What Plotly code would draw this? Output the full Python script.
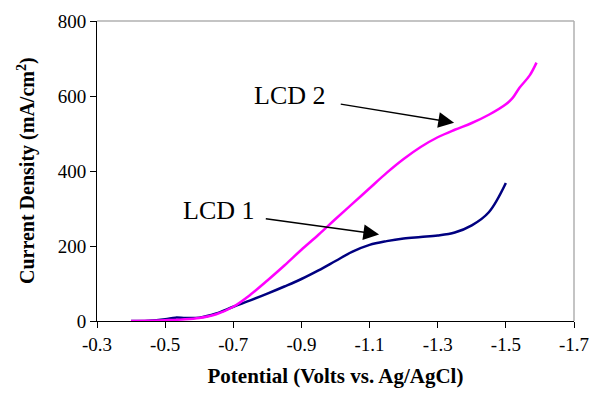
import plotly.graph_objects as go

# LCD 1 (navy)
lcd1_v = [-0.40, -0.45, -0.50, -0.53, -0.56, -0.60, -0.65, -0.70, -0.75, -0.80, -0.85, -0.90,
          -0.95, -1.00, -1.05, -1.10, -1.15, -1.20, -1.25, -1.30, -1.35, -1.40, -1.45, -1.50]
lcd1_i = [0, 1, 5, 9, 8, 9, 20, 38, 55, 73, 92, 112,
          135, 160, 185, 203, 213, 220, 224, 228, 236, 255, 290, 368]

# LCD 2 (magenta)
lcd2_v = [-0.40, -0.45, -0.50, -0.55, -0.60, -0.65, -0.70, -0.75, -0.80, -0.85, -0.90, -0.95,
          -1.00, -1.05, -1.10, -1.15, -1.20, -1.25, -1.30, -1.35, -1.40, -1.45, -1.50, -1.52,
          -1.54, -1.57, -1.59]
lcd2_i = [0, 0.5, 2, 4, 8, 18, 38, 70, 108, 148, 190, 230,
          272, 313, 354, 395, 432, 464, 490, 510, 528, 550, 578, 595,
          622, 655, 689]

x_ticks = [-0.3, -0.5, -0.7, -0.9, -1.1, -1.3, -1.5, -1.7]
x_ticktext = ["-0.3", "-0.5", "-0.7", "-0.9", "-1.1", "-1.3", "-1.5", "-1.7"]
y_ticks = [0, 200, 400, 600, 800]

labels = ["LCD 1", "LCD 2"]
label_pos = [(-0.657, 296), (-0.867, 601)]
arrow_tail = [(-0.791, 273), (-1.011, 579)]
arrow_head = [(-1.128, 231), (-1.348, 529)]

font_family = "Liberation Serif, Times New Roman, serif"

fig = go.Figure()
fig.add_trace(go.Scatter(x=lcd1_v, y=lcd1_i, mode="lines", name="LCD 1",
                         line=dict(color="#000080", width=2.5, shape="spline")))
fig.add_trace(go.Scatter(x=lcd2_v, y=lcd2_i, mode="lines", name="LCD 2",
                         line=dict(color="#FF00FF", width=2.5, shape="spline")))

annotations = []
for lab, (lx, ly), (tx, ty), (hx, hy) in zip(labels, label_pos, arrow_tail, arrow_head):
    annotations.append(dict(x=lx, y=ly, xref="x", yref="y", text=lab, showarrow=False,
                            font=dict(family=font_family, size=26, color="black"),
                            xanchor="center", yanchor="middle"))
    annotations.append(dict(x=hx, y=hy, xref="x", yref="y", ax=tx, ay=ty, axref="x", ayref="y",
                            text="", showarrow=True, arrowhead=2, arrowsize=2.1,
                            arrowwidth=1.5, arrowcolor="black", standoff=0))

# y-axis title
annotations.append(dict(x=0, y=0.5, xref="paper", yref="paper", xanchor="center", yanchor="middle",
                        xshift=-71, textangle=-90, showarrow=False,
                        text="<b>Current Density (mA/cm<sup>2</sup>)</b>",
                        font=dict(family=font_family, size=20, color="black")))

fig.update_layout(
    width=600, height=396,
    margin=dict(l=97, r=25, t=11, b=75),
    paper_bgcolor="white", plot_bgcolor="white",
    showlegend=False,
    font=dict(family=font_family, color="black"),
    annotations=annotations,
    shapes=[
        dict(type="line", xref="paper", yref="paper", x0=0, y0=1, x1=1, y1=1,
             line=dict(color="#b0b0b0", width=1.5)),
        dict(type="line", xref="paper", yref="paper", x0=1, y0=0, x1=1, y1=1,
             line=dict(color="#b0b0b0", width=1.5)),
    ],
)
fig.update_xaxes(range=[-0.3, -1.7], tickvals=x_ticks, ticktext=x_ticktext,
                 showgrid=False, zeroline=False, showline=True, linecolor="black", linewidth=1,
                 ticks="outside", ticklen=6, tickcolor="black",
                 tickfont=dict(family=font_family, size=19),
                 title=dict(text="<b>Potential (Volts vs. Ag/AgCl)</b>",
                            font=dict(family=font_family, size=21), standoff=14))
fig.update_yaxes(range=[0, 800], tickvals=y_ticks,
                 showgrid=False, zeroline=False, showline=True, linecolor="black", linewidth=1,
                 ticks="outside", ticklen=6, tickcolor="black",
                 tickfont=dict(family=font_family, size=19))

fig.write_html("out.html")
